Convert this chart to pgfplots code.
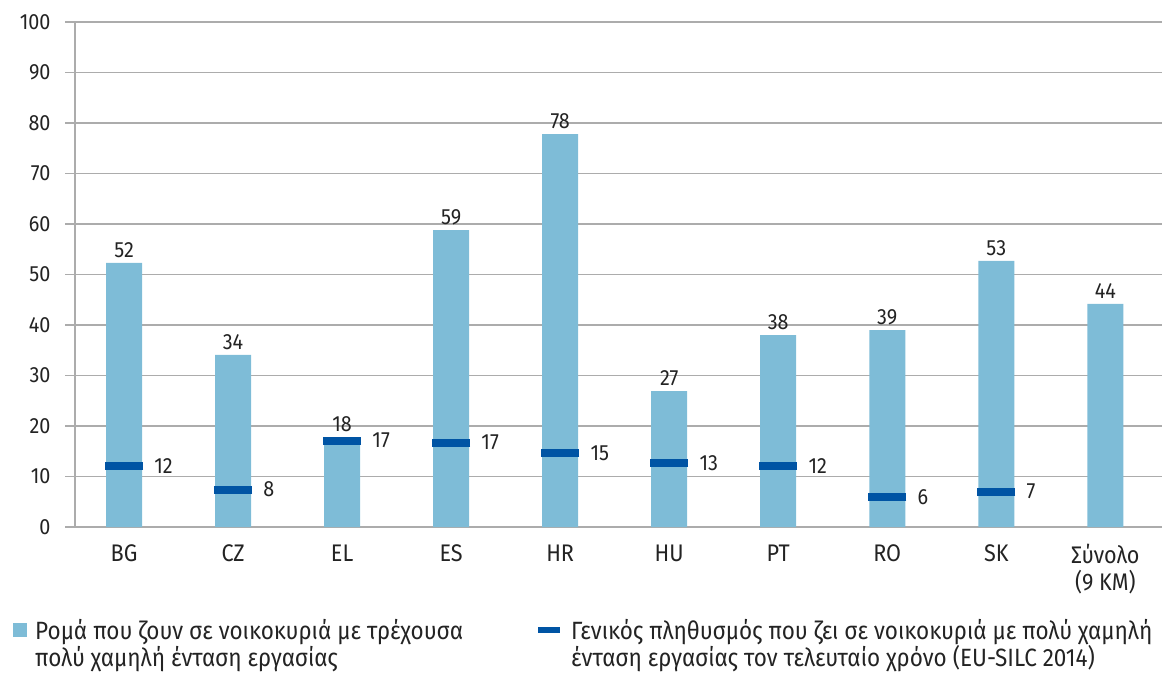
\documentclass[border=0pt]{standalone}
\usepackage{fontspec}
\setmainfont{Fira Sans}[FakeStretch=0.9]
\usepackage{pgfplots}
\pgfplotsset{compat=1.18}
\definecolor{barblue}{RGB}{126,188,215}
\definecolor{dashblue}{RGB}{0,84,164}
\definecolor{gridgrey}{RGB}{172,172,172}
\definecolor{txt}{RGB}{35,35,35}
\pgfplotstableread{
x y lab
0 52.3 52
1 34.1 34
2 17.8 18
3 58.8 59
4 77.8 78
5 26.9 27
6 38.0 38
7 39.0 39
8 52.7 53
9 44.2 44
}\bars
\pgfplotstableread{
x y lab
0 12.1 12
1 7.4 8
2 17.1 17
3 16.7 17
4 14.6 15
5 12.6 13
6 12.1 12
7 6.0 6
8 7.0 7
}\general
\begin{document}
\begin{tikzpicture}
\begin{axis}[
  scale only axis, width=1087pt, height=505pt,
  xmin=-0.45, xmax=9.52, ymin=0, ymax=100,
  axis x line=bottom, axis y line=left,
  axis line style={gridgrey, line width=1.5pt, -},
  /pgf/number format/assume math mode=true,
  xtick={0,...,9},
  xticklabels={BG,CZ,EL,ES,HR,HU,PT,RO,SK,{Σύνολο\\(9 KM)}},
  xticklabel style={align=center, text=txt, font=\fontsize{24}{27}\selectfont, yshift=-4pt},
  x tick style={draw=none},
  ytick={0,10,...,100},
  yticklabel style={text=txt, font=\fontsize{22}{25}\selectfont, xshift=-11pt},
  y tick style={gridgrey, line width=1.5pt},
  tick align=outside, major tick length=10pt,
  ymajorgrids, grid style={gridgrey, line width=1.5pt},
  legend cell align=left,
  legend style={at={(-0.0598,-0.175)}, anchor=north west, draw=none, fill=none,
    legend columns=2, font=\fontsize{25}{27}\selectfont, text=txt,
    cells={align=left, anchor=west},
    /tikz/every odd column/.append style={column sep=6pt},
    /tikz/every even column/.append style={column sep=70pt}},
]
\addplot[ybar, bar width=36pt, fill=barblue, draw=none,
  nodes near coords, point meta=explicit symbolic,
  every node near coord/.append style={text=txt, font=\fontsize{22}{25}\selectfont, yshift=2pt},
  legend image code/.code={\fill[barblue] (0pt,6.5pt) rectangle (14pt,20.5pt);}]
  table[x=x, y=y, meta=lab] {\bars};
\addlegendentry{Ρομά που ζουν σε νοικοκυριά με τρέχουσα\\πολύ χαμηλή ένταση εργασίας}
\addplot[only marks, mark=-, mark size=19pt, mark options={line width=8pt, dashblue},
  nodes near coords, point meta=explicit symbolic,
  every node near coord/.append style={anchor=west, xshift=23pt, text=txt, font=\fontsize{22}{25}\selectfont},
  legend image code/.code={\draw[dashblue, line width=6pt] (0pt,13.5pt) -- (22pt,13.5pt);}]
  table[x=x, y=y, meta=lab] {\general};
\addlegendentry{Γενικός πληθυσμός που ζει σε νοικοκυριά με πολύ χαμηλή\\ένταση εργασίας τον τελευταίο χρόνο (EU-SILC 2014)}
\end{axis}
\pgfresetboundingbox
\path ([shift={(-75pt,-146pt)}]current axis.south west) rectangle ([shift={(0pt,22pt)}]current axis.north east);
\end{tikzpicture}
\end{document}
